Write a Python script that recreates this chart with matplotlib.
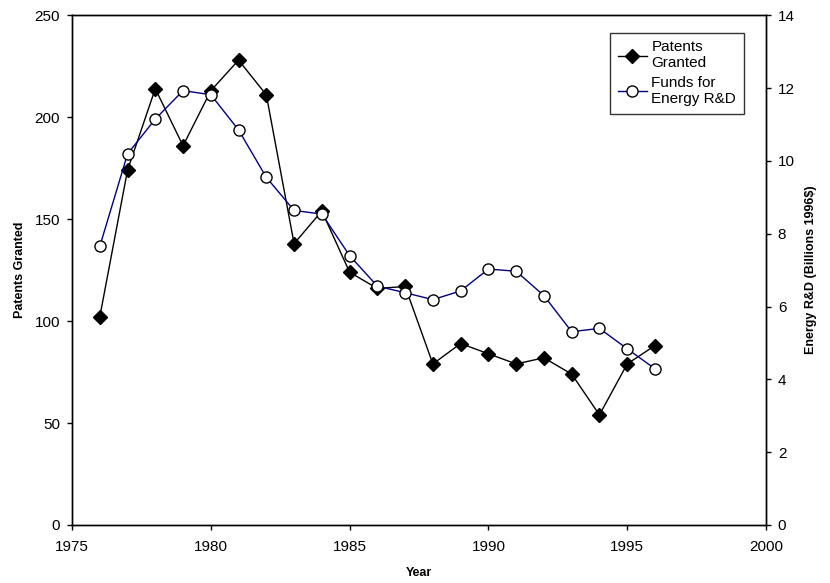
import matplotlib.pyplot as plt
import numpy as np

plt.rcParams['font.family'] = ['Liberation Sans', 'DejaVu Sans']

# Data
years = list(range(1976, 1997))
patents = [102, 174, 214, 186, 213, 228, 211, 138, 154, 124, 116,
           117, 79, 89, 84, 79, 82, 74, 54, 79, 88]
funds = [7.65, 10.19, 11.15, 11.93, 11.82, 10.85, 9.55, 8.64, 8.54, 7.40, 6.56,
         6.38, 6.19, 6.43, 7.03, 6.97, 6.30, 5.31, 5.40, 4.84, 4.29]

fig = plt.figure(figsize=(8.3, 5.83), dpi=100)
ax = fig.add_axes([72/830, 1-525/583, (766-72)/830, (525-15.3)/583])
ax2 = ax.twinx()

l1, = ax.plot(years, patents, color='black', lw=1, marker='D', markersize=7,
              markerfacecolor='black', markeredgecolor='black', zorder=3)
l2, = ax2.plot(years, funds, color='#000080', lw=1, marker='o', markersize=8,
               markerfacecolor='white', markeredgecolor='black', markeredgewidth=1)

ax.set_xlim(1975, 2000)
ax.set_ylim(0, 250)
ax2.set_ylim(0, 14)
ax.set_xticks(np.arange(1975, 2001, 5))
ax.set_yticks(np.arange(0, 251, 50))
ax2.set_yticks(np.arange(0, 15, 2))

for a in (ax, ax2):
    a.tick_params(direction='out', length=3.5, width=1, labelsize=11, pad=5)
    for s in a.spines.values():
        s.set_linewidth(1)
ax.tick_params(axis='x', pad=7)

ax.set_xlabel('Year', fontsize=9, fontweight='bold', labelpad=10)
ax.set_ylabel('Patents Granted', fontsize=9, fontweight='bold', labelpad=6)
ax2.set_ylabel('Energy R&D (Billions 1996$)', fontsize=9, fontweight='bold', labelpad=7)

leg = ax2.legend([l1, l2], ['Patents\nGranted', 'Funds for\nEnergy R&D'],
                 loc='upper right', bbox_to_anchor=(0.968, 0.966), fontsize=11,
                 frameon=True, fancybox=False, edgecolor='black', handlelength=1.9,
                 handletextpad=0.3, borderpad=0.5, labelspacing=0.35,
                 borderaxespad=0)
leg.get_frame().set_linewidth(1)

fig.savefig('out.png', dpi=100)
